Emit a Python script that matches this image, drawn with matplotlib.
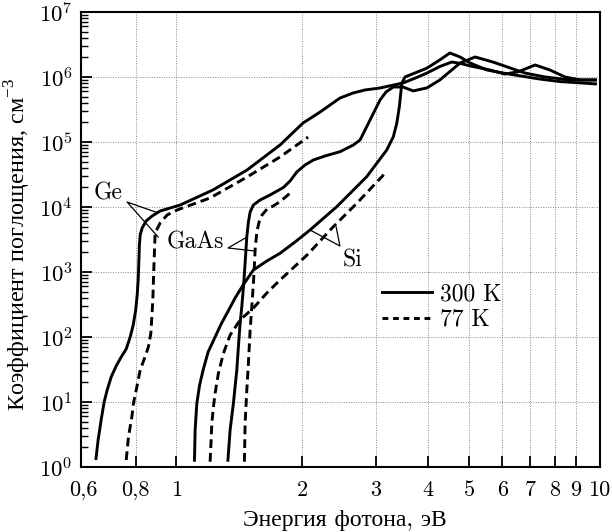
import numpy as np
import matplotlib
matplotlib.use("Agg")
import matplotlib.pyplot as plt
import matplotlib.transforms as mtransforms
from matplotlib.ticker import LogLocator, NullFormatter, FixedLocator

plt.rcParams['font.family'] = ['cmr10', 'Liberation Serif', 'DejaVu Serif']
plt.rcParams['mathtext.fontset'] = 'cm'
plt.rcParams['mathtext.rm'] = 'Liberation Serif'
plt.rcParams['axes.formatter.use_mathtext'] = True
plt.rcParams['axes.unicode_minus'] = False

# photon energy (eV) / absorption coefficient
ge_300_e = [0.6432, 0.6514, 0.6623, 0.6733, 0.6846, 0.6998, 0.7194, 0.7394, 0.7601, 0.777,
            0.7899, 0.8008, 0.8074, 0.8118, 0.815, 0.8172, 0.8208, 0.8297, 0.848, 0.8766,
            0.9159, 1.022, 1.225, 1.477, 1.77, 2.009, 2.206, 2.33, 2.462, 2.644,
            2.824, 3.067, 3.479, 3.72, 3.97, 4.26, 4.55, 4.8, 5.03, 5.61,
            6.09, 6.55, 7.19, 7.80, 8.47, 9.2, 10.1]
ge_300_a = [1.28, 2.6, 5.29, 10, 15.3, 24.2, 35.8, 49.2, 65.4, 100,
            153, 260, 443, 753, 1530, 2600, 3710, 4750, 6090, 7270,
            8680, 1.07e4, 1.83e4, 3.71e4, 8.99e4, 1.96e5, 2.89e5, 3.71e5, 4.75e5, 5.67e5,
            6.31e5, 6.77e5, 8.09e5, 9.6e5, 1.15e6, 1.45e6, 1.7e6, 1.6e6, 1.48e6, 1.28e6,
            1.11e6, 1.2e6, 1.53e6, 1.28e6, 1.0e6, 9e5, 9e5]

ge_77_e = [0.7601, 0.7697, 0.7842, 0.7911, 0.806, 0.8208, 0.8434, 0.8589, 0.8703, 0.8751,
           0.8799, 0.8828, 0.8862, 0.891, 0.9159, 0.9518, 1.0055, 1.205, 1.477, 1.77, 2.065]
ge_77_a = [1.28, 2.93, 5.94, 9.55, 17.2, 31.1, 49.8, 70.9, 114, 205,
           371, 753, 1530, 3980, 5670, 7530, 8990, 1.376e4, 2.89e4, 5.88e4, 1.19e5]

gaas_300_e = [1.3284, 1.3453, 1.3699, 1.3958, 1.4081, 1.4213, 1.4347, 1.4489, 1.461, 1.4747,
              1.4877, 1.5017, 1.5292, 1.5864, 1.6757, 1.803, 1.8707, 1.9408, 2.0309, 2.1256,
              2.267, 2.462, 2.6486, 2.7478, 2.8243, 2.9029, 2.9838, 3.067, 3.1693, 3.2991,
              3.48, 3.68, 3.97, 4.26, 4.76, 5.17, 5.70, 6.26, 6.80, 7.59,
              8.71, 10.1]
gaas_300_a = [1.206, 3.71, 9.55, 31.1, 70.9, 162, 293, 631, 1375, 3491,
              5877, 8376, 1.074e4, 1.281e4, 1.53e4, 1.995e4, 2.51e4, 3.455e4, 4.43e4, 5.285e4,
              6.09e4, 7.09e4, 8.99e4, 1.074e5, 1.53e5, 2.18e5, 3.11e5, 4.43e5, 5.88e5, 7.02e5,
              7e5, 6.1e5, 6.8e5, 9e5, 1.64e6, 2.03e6, 1.7e6, 1.38e6, 1.15e6, 1.0e6,
              9e5, 9e5]

gaas_77_e = [1.4553, 1.461, 1.4747, 1.4877, 1.5017, 1.5158, 1.5292, 1.5376, 1.5435, 1.558,
             1.5776, 1.6037, 1.6488, 1.7045, 1.77, 1.888]
gaas_77_a = [1.206, 4.7, 15.3, 39.4, 128, 293, 677, 1281, 2181, 4125,
             5877, 7530, 9316, 1.036e4, 1.206e4, 1.72e4]

si_300_e = [1.1058, 1.1101, 1.1205, 1.1379, 1.16, 1.1923, 1.239, 1.2805, 1.3234, 1.3828,
            1.445, 1.5292, 1.6461, 1.77, 1.9227, 2.0874, 2.4177, 2.8507, 3.1815, 3.2991,
            3.3615, 3.4099, 3.4362, 3.4552, 3.5175, 3.97, 4.26, 4.50, 4.76, 5.03,
            5.52, 6.03, 6.62, 7.37, 8.24, 10.1]
si_300_a = [1.206, 3.71, 9.55, 18.3, 31.1, 58.8, 100, 158, 234, 398,
            631, 1074, 1476, 1940, 2894, 4430, 1.011e4, 2.93e4, 7.53e4, 1.206e5,
            1.94e5, 3.49e5, 5.61e5, 8.0e5, 1.0e6, 1.37e6, 1.83e6, 2.34e6, 2.03e6, 1.64e6,
            1.28e6, 1.15e6, 1.04e6, 9.3e5, 8.5e5, 7.8e5]

si_77_e = [1.2054, 1.212, 1.2167, 1.2274, 1.239, 1.2615, 1.2968, 1.3453, 1.4213, 1.5292,
           1.6461, 1.77, 1.9016, 2.0535, 2.206, 2.369, 2.703, 3.1519]
si_77_a = [1.206, 2.6, 4.7, 8.47, 13.6, 27.6, 56.1, 107, 183, 279,
           475, 753, 1152, 1826, 3000, 4924, 1.152e4, 3.3e4]

x_ticks = [0.6, 0.8, 1, 2, 3, 4, 5, 6, 7, 8, 9, 10]
x_tick_labels = ['0,6', '0,8', '1', '2', '3', '4', '5', '6', '7', '8', '9', '10']
y_ticks = [1e0, 1e1, 1e2, 1e3, 1e4, 1e5, 1e6, 1e7]

fig = plt.figure(figsize=(6.12, 5.32), dpi=100)
ax = fig.add_axes([0.1324, 0.1222, 0.848, 0.8553])
ax.set_xscale('log')
ax.set_yscale('log')
ax.set_xlim(0.593, 10.27)
ax.set_ylim(1, 1e7)

lw = 2.1
dash = (0, (3.0, 1.7))
kw = dict(color='black', lw=lw, solid_capstyle='butt', dash_capstyle='butt',
          solid_joinstyle='round')
ax.plot(ge_300_e, ge_300_a, **kw)
ax.plot(gaas_300_e, gaas_300_a, **kw)
ax.plot(si_300_e, si_300_a, **kw)
ax.plot(ge_77_e, ge_77_a, ls=dash, **kw)
ax.plot(gaas_77_e, gaas_77_a, ls=dash, **kw)
ax.plot(si_77_e, si_77_a, ls=dash, **kw)

# legend
ax.plot([], [], color='black', lw=lw, label='300 K')
ax.plot([], [], color='black', lw=lw, ls=(0, (2.0, 1.6)), label='77 K')
ax.legend(loc='upper left', bbox_to_anchor=(0.558, 0.43), frameon=False,
          fontsize=17, handlelength=2.1, handletextpad=0.35, labelspacing=0.15,
          borderpad=0)

# material labels with pointer lines
fs = 17
ax.text(0.688, 1.64e4, 'Ge', fontsize=fs, ha='center', va='center')
ax.plot([0.906, 0.764, 0.906], [8.1e3, 1.19e4, 3.45e3], color='black', lw=0.9)
ax.text(1.11, 2.8e3, 'GaAs', fontsize=fs, ha='center', va='center')
ax.plot([1.477, 1.33, 1.543], [3450, 2340, 2100], color='black', lw=0.9)
ax.text(2.63, 1530, 'Si', fontsize=fs, ha='center', va='center')
ax.plot([2.087, 2.46, 2.41], [4430, 2510, 4900], color='black', lw=0.9)

# ticks
ax.xaxis.set_major_locator(FixedLocator(x_ticks))
ax.set_xticklabels(x_tick_labels)
ax.xaxis.set_minor_locator(FixedLocator([]))
ax.set_yticks(y_ticks)
ax.set_yticklabels([r'$10^{%d}$' % i for i in range(8)])
ax.yaxis.set_minor_locator(LogLocator(base=10, subs=np.arange(2, 10)))
ax.yaxis.set_minor_formatter(NullFormatter())
ax.tick_params(axis='x', which='major', direction='in', length=8, width=1.3,
               labelsize=16, pad=10, top=False)
ax.tick_params(axis='y', which='major', direction='in', length=8, width=1.3,
               labelsize=16.5, pad=6, right=False)
ax.tick_params(axis='y', which='minor', direction='in', length=5, width=1.0, right=False)

ax.grid(True, which='major', color='#888888', ls=(0, (1, 1.5)), lw=0.7)
for i in (0, -1):
    ax.xaxis.get_major_ticks()[i].tick1line.set_visible(False)
    ax.xaxis.get_major_ticks()[i].gridline.set_visible(False)
    ax.yaxis.get_major_ticks()[i].gridline.set_visible(False)

# "10" sits at the right frame edge
last = ax.xaxis.get_major_ticks()[-1].label1
last.set_transform(last.get_transform() +
                   mtransforms.ScaledTranslation(0.035, 0, fig.dpi_scale_trans))

for s in ax.spines.values():
    s.set_linewidth(1.5)

ax.set_xlabel('Энергия фотона, эВ', fontsize=17)
ax.set_ylabel('Коэффициент поглощения, см$^{-3}$', fontsize=17.5,
              family=['Liberation Serif'], math_fontfamily='custom')
ax.xaxis.set_label_coords(0.509, -0.092)
ax.yaxis.set_label_coords(-0.093, 0.49)

fig.savefig('out.png', dpi=100)
